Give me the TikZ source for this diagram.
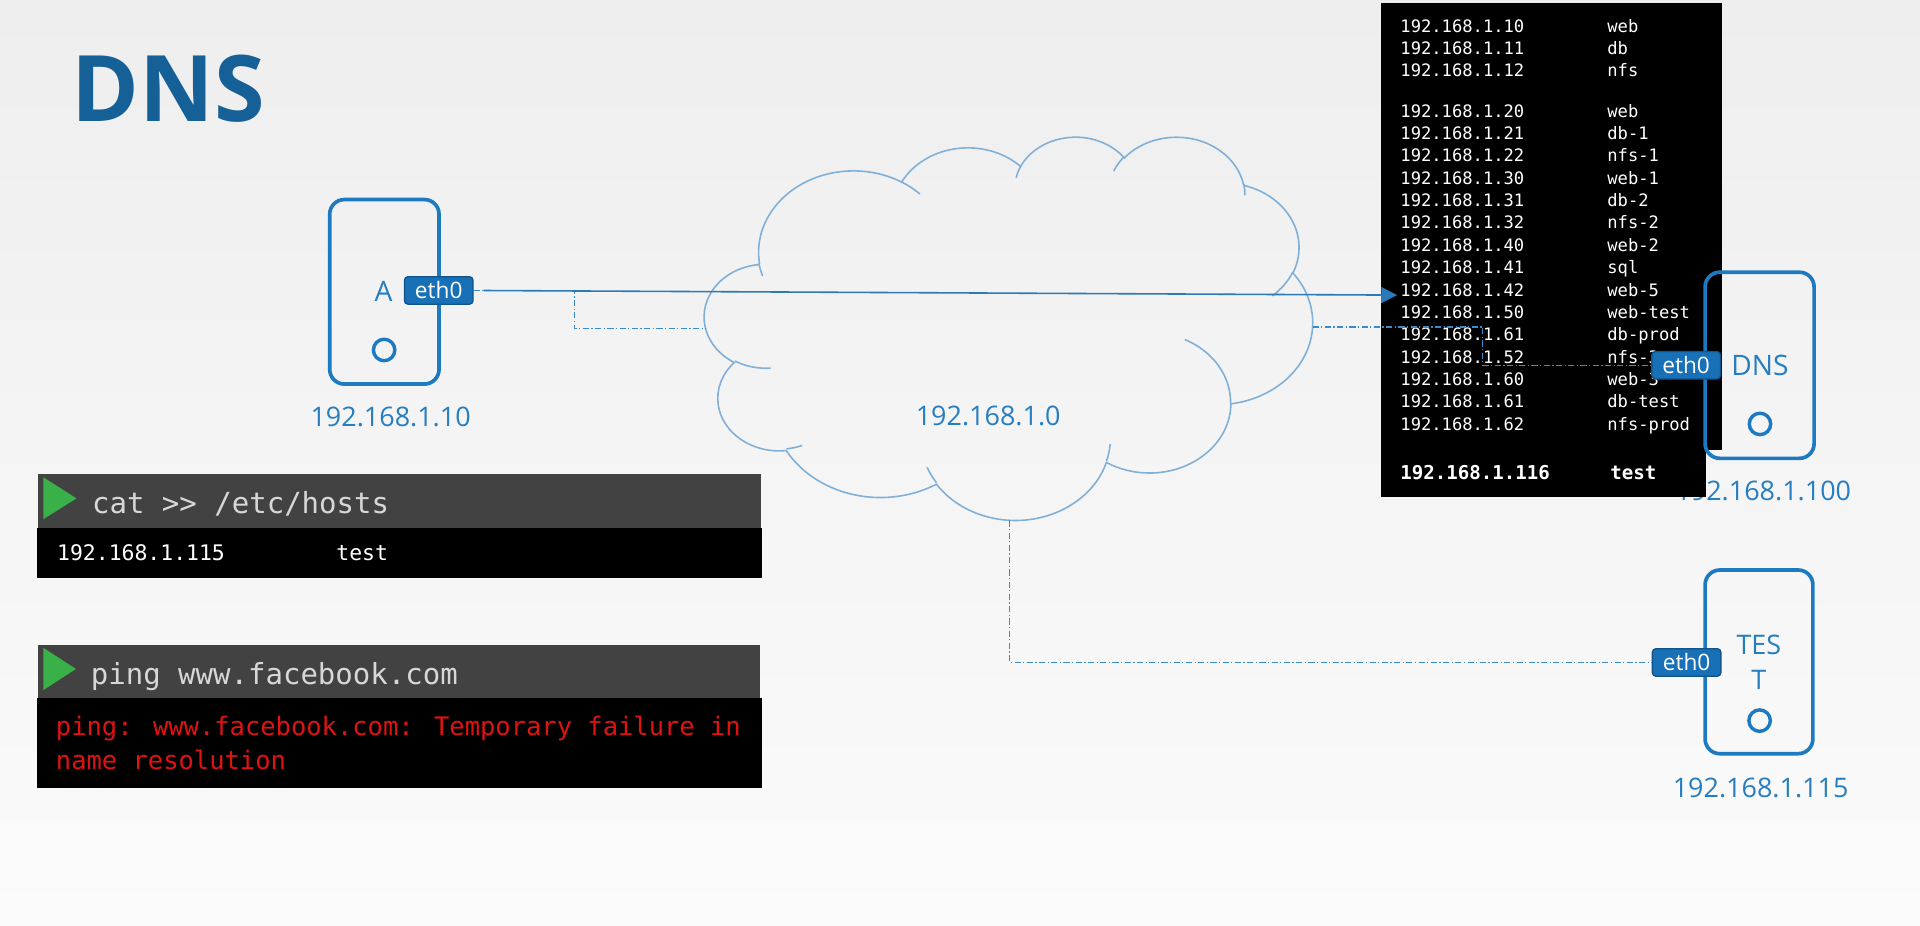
\documentclass[tikz,border=0pt]{standalone}
\usepackage{fontspec}
\setmainfont{Open Sans}
\newfontfamily\monofont{DejaVu Sans Mono}
\usetikzlibrary{arrows.meta}

\definecolor{titleblue}{RGB}{22,96,152}
\definecolor{boxblue}{RGB}{30,122,192}
\definecolor{labelblue}{RGB}{38,126,192}
\definecolor{badgefill}{RGB}{24,112,182}
\definecolor{badgeedge}{RGB}{16,84,140}
\definecolor{cloudblue}{RGB}{128,176,216}
\definecolor{linkblue}{RGB}{60,138,200}
\definecolor{arrowblue}{RGB}{42,122,186}
\definecolor{termhead}{RGB}{66,66,66}
\definecolor{termgreen}{RGB}{58,176,72}
\definecolor{termtext}{RGB}{215,215,215}
\definecolor{errred}{RGB}{224,18,18}
\definecolor{bgtop}{RGB}{238,238,238}
\definecolor{bgbot}{RGB}{251,251,251}

\newcommand{\fsz}[1]{\fontsize{#1}{#1}\selectfont}

% visual angle on an ellipse -> parametric angle
\pgfmathdeclarefunction{visang}{3}{%
  \pgfmathparse{atan2((#1)*sin(#3),(#2)*cos(#3))}%
  \let\visangtmp\pgfmathresult
  \pgfmathparse{\visangtmp+360*round(((#3)-\visangtmp)/360)}%
}
\newcommand{\ooarc}[4]{%
  \pgfextra{\pgfmathparse{visang(#1,#2,#3)}\global\let\ooS\pgfmathresult
            \pgfmathparse{visang(#1,#2,#3+#4)}\global\let\ooE\pgfmathresult}%
  arc[start angle=\ooS, end angle=\ooE, x radius=#1, y radius=#2]}

\begin{document}
\begin{tikzpicture}[x=1pt,y=-1pt,
  hostbox/.style={draw=boxblue, line width=3pt, rounded corners=12pt, inner sep=0pt},
  ethbadge/.style={draw=badgeedge, fill=badgefill, line width=1.1pt, rounded corners=3pt,
    text=white, font=\fsz{18.5}, minimum width=56pt, minimum height=22.5pt, inner sep=0pt},
  lamp/.style={circle, draw=boxblue, line width=2.8pt, minimum size=17.5pt, inner sep=0pt},
  iplabel/.style={text=labelblue, font=\fsz{22}, inner sep=0pt},
  hostname/.style={text=labelblue, font=\fsz{23}, inner sep=0pt},
  cloudline/.style={draw=cloudblue, line width=1.3pt},
  link/.style={draw=linkblue, line width=1pt, dash pattern=on 5pt off 2pt on 1pt off 2pt},
  arrowline/.style={draw=arrowblue, line width=1.3pt, -{Triangle[length=13pt,width=13pt]}},
  tabtext/.style={text=white, font=\monofont\fsz{14}, inner sep=0pt, anchor=base west},
  tabbold/.style={text=white, font=\monofont\bfseries\fsz{15.6}, inner sep=0pt, anchor=base west},
  termcmd/.style={text=termtext, font=\monofont\fsz{23.7}, inner sep=0pt, anchor=base west},
  termout/.style={text=white, font=\monofont\fsz{17.5}, inner sep=0pt, anchor=base west},
  termerr/.style={text=errred, font=\monofont\fsz{20.8}, inner sep=0pt, anchor=base west}]

% background
\fill[top color=bgtop, bottom color=bgbot] (0,0) rectangle (1568,756);
\useasboundingbox (0,0) rectangle (1568,756);

% title
\node[anchor=base west, inner sep=0pt, text=titleblue, font=\bfseries\fsz{75}] (title) at (58.5,99.6) {DNS};

% DNS server address (partly hidden by the table)
\node[iplabel] (ipD) at (1440,401) {192.168.1.100};

% hosts table
\fill[black] (1128,2.7) rectangle (1406,367.5);
\fill[black] (1128,360) rectangle (1393,405.6);
\foreach \ip/\nm/\yy [count=\k] in {
  192.168.1.10/web/21.8, 192.168.1.11/db/39.5, 192.168.1.12/nfs/57.2,
  192.168.1.20/web/90.6, 192.168.1.21/db-1/108.9, 192.168.1.22/nfs-1/127.1,
  192.168.1.30/web-1/145.4, 192.168.1.31/db-2/163.6, 192.168.1.32/nfs-2/181.9,
  192.168.1.40/web-2/200.2, 192.168.1.41/sql/218.4, 192.168.1.42/web-5/236.7,
  192.168.1.50/web-test/254.9, 192.168.1.61/db-prod/273.2, 192.168.1.52/nfs-3/291.5,
  192.168.1.60/web-3/309.7, 192.168.1.61/db-test/328.0, 192.168.1.62/nfs-prod/346.2}{
  \node[tabtext] (tip\k) at (1143.5,\yy+5.1) {\ip};
  \node[tabtext] (tnm\k) at (1312.5,\yy+5.1) {\nm};
}
\node[tabbold] (tipX) at (1143.5,391.7) {192.168.1.116};
\node[tabbold] (tnmX) at (1315,391.7) {test};

% DNS host
\node[hostbox, minimum width=89pt, minimum height=152pt] (dnsbox) at (1437,298.3) {};
\node[hostname] (dnsname) at (1437.3,298.6) {DNS};
\node[lamp] (dnslamp) at (1437.3,346.2) {};

% host A
\node[hostbox, minimum width=89.3pt, minimum height=150.7pt] (boxA) at (313.9,238.3) {};
\node[hostname] (nameA) at (313.3,238.2) {A};
\node[lamp] (lampA) at (313.7,285.8) {};
\node[iplabel] (ipA) at (319,340.2) {192.168.1.10};

% host TEST
\node[hostbox, minimum width=88pt, minimum height=150pt] (testbox) at (1436.5,540.5) {};
\node[text=labelblue, font=\fontsize{22}{28.5}\selectfont, align=center, inner sep=0pt] (testname) at (1436.4,541) {TES\\T};
\node[lamp] (testlamp) at (1437,588.5) {};
\node[iplabel] (ipT) at (1437.8,643.5) {192.168.1.115};

% network cloud
\begin{scope}[shift={(575.4,111.0)}, x=0.114907pt, y=-0.072431pt]
  \draw[cloudline] (390,1437)
    \ooarc{675.3}{919.0}{-190.4875}{123.7805}
    \ooarc{533.3}{726.7}{-144.1024}{89.9452}
    \ooarc{436.5}{594.5}{-145.8079}{99.7230}
    \ooarc{485.7}{659.5}{-130.9861}{117.2417}
    \ooarc{533.3}{727.3}{-78.7089}{109.0269}
    \ooarc{677.5}{922.0}{-46.2673}{130.2690}
    \ooarc{578.5}{786.7}{0.6250}{114.0333}
    \ooarc{675.2}{921.5}{22.4516}{115.1726}
    \ooarc{772.0}{1054.3}{66.2426}{75.7110}
    \ooarc{436.0}{591.8}{-274.9421}{146.7356}
    \ooarc{434.5}{594.5}{-246.8285}{152.5189}
    -- cycle;
  \draw[cloudline]
    (469.3,2617.7) \ooarc{434.5}{594.5}{86.742}{26.4295}
    (692.8,3489.9) \ooarc{436.0}{591.8}{73.6105}{11.4475}
    (1647.8,3909.0) \ooarc{675.2}{921.5}{137.6242}{14.0811}
    (2882.7,3475.1) \ooarc{675.2}{921.5}{6.4533}{15.9984}
    (3412.9,2295.4) \ooarc{578.5}{786.7}{-70.2924}{70.9174}
    (4179.8,1535.4) \ooarc{533.3}{727.3}{30.3180}{27.7515}
    (3832.4,542.6) \ooarc{485.7}{659.5}{-13.7443}{14.8589}
    (2907.8,395.2) \ooarc{485.7}{659.5}{-149.1815}{18.1954}
    (2214.1,472.0) \ooarc{436.5}{594.5}{-163.4943}{17.6864}
    (1400.0,519.2) \ooarc{675.3}{919.0}{-66.7070}{12.3194}
    (412.7,1578.9) \ooarc{675.3}{919.0}{154.8316}{11.8545};
\end{scope}
\node[iplabel] (netip) at (807,339.6) {192.168.1.0};

\coordinate (cloudL) at (576.2,268);
\coordinate (cloudR) at (1072,267);
\coordinate (cloudB) at (824.5,425);
\coordinate (jA) at (469,268);
\coordinate (jD) at (1211,298.3);
\coordinate (tgt) at (1141,241);

% interfaces and links
\node[ethbadge] (ethA) at (358.3,237.2) {eth0};
\node[ethbadge] (ethT) at (1377.4,541) {eth0};
\node[ethbadge] (ethD) at (1377,298.3) {eth0};
\draw[link] (ethA.east) -| (jA) -- (cloudL);
\draw[link] (cloudB) |- (ethT.west);
\draw[link] (cloudR) -| (jD) -- (ethD.west);
\draw[arrowline, shorten <=8pt] (ethA.east) -- (tgt);

% terminal 1
\fill[termhead] (31,387) rectangle (621.5,431.5);
\fill[black] (30.5,431.5) rectangle (622.5,472);
\fill[termgreen] (35.4,389.8) -- (35.4,424) -- (62.5,407) -- cycle;
\node[termcmd] (cmd1) at (75,419.2) {cat >\kern0pt> /etc/hosts};
\node[termout] (out1a) at (46.5,457.9) {192.168.1.115};
\node[termout] (out1b) at (274.5,457.9) {test};

% terminal 2
\fill[termhead] (31,526.8) rectangle (621,570);
\fill[black] (30.5,570) rectangle (622.5,643.6);
\fill[termgreen] (35.4,529) -- (35.4,563.6) -- (62,546.3) -- cycle;
\node[termcmd] (cmd2) at (74,558.6) {ping www.facebook.com};
\node[termerr] (err1) at (45.5,601) {ping: www.facebook.com: Temporary failure in};
\node[termerr] (err2) at (45.5,628.3) {name resolution};

\end{tikzpicture}
\end{document}
